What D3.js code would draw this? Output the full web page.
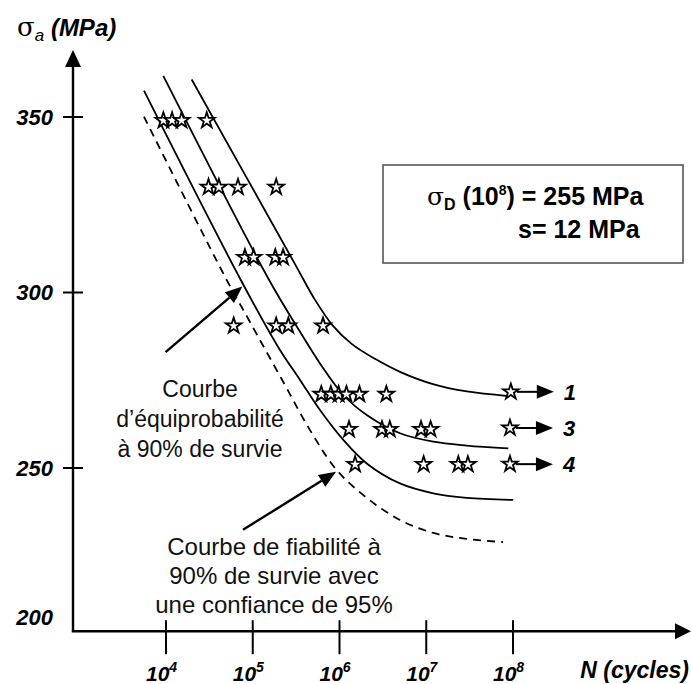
<!DOCTYPE html>
<html><head><meta charset="utf-8">
<script src="https://cdn.jsdelivr.net/npm/d3@7"></script>
<style>
body{margin:0;background:#fff}
svg{display:block;font-family:"Liberation Sans",Arial,sans-serif}
</style></head><body>
<svg id="c" width="691" height="684"></svg>
<script>
// ---- data ----
const xTickExponents = [4, 5, 6, 7, 8];
const yTickValues = [250, 300, 350];
const yTickLabels = [200, 250, 300, 350];
const yAxisMin = 203.5;

// test results: log10(N) and stress amplitude (MPa)
const pointsLogN   = [3.97, 4.07, 4.18, 4.47,  4.49, 4.61, 4.83, 5.27,  4.91, 5.01, 5.26, 5.35,
                      4.78, 5.27, 5.41, 5.81,  5.79, 5.90, 5.99, 6.08, 6.23, 6.54,
                      6.11, 6.49, 6.58, 6.94, 7.05,  6.18, 6.97, 7.37, 7.48];
const pointsStress = [349, 349, 349, 349,  330, 330, 330, 330,  310, 310, 310, 310,
                      290.5, 290.5, 290.5, 290.5,  271, 271, 271, 271, 271, 271,
                      261, 261, 261, 261, 261,  251, 251, 251, 251];

// run-outs (non broken at 1e8)
const runoutLogN   = [7.975, 7.965, 7.965];
const runoutStress = [271.7, 261.4, 251.1];
const runoutLabels = ["1", "3", "4"];

// curves: log10(N), stress
const curve1LogN   = [4.296, 5.487, 5.718, 5.925, 6.144, 6.409, 6.697, 7.078, 7.470, 7.942];
const curve1Stress = [360.7, 308.1, 297.9, 290.5, 285.3, 281.1, 277.4, 273.9, 271.8, 270.5];
const curve3LogN   = [3.969, 5.179, 5.545, 5.775, 6.044, 6.314, 6.697, 7.081, 7.466, 7.946];
const curve3Stress = [361.7, 304.0, 288.8, 279.8, 270.8, 265.1, 259.9, 257.5, 256.4, 255.6];
const curve4LogN   = [3.746, 4.853, 5.314, 5.545, 5.775, 6.044, 6.314, 6.697, 7.081, 7.466, 8.003];
const curve4Stress = [357.5, 304.0, 283.6, 275.1, 266.5, 258.0, 251.3, 245.6, 242.8, 241.5, 240.9];
const dashedLogN   = [3.746, 4.680, 4.968, 5.352, 5.660, 5.968, 6.314, 6.697, 7.081, 7.466, 7.885];
const dashedStress = [350.1, 304.5, 291.6, 274.5, 260.8, 249.4, 241.5, 235.2, 231.5, 229.8, 228.9];

// annotation arrows (tail -> tip) in data coordinates
const arrow1 = {from: [3.995, 283.0], to: [4.88, 301.7]};
const arrow2 = {from: [4.888, 232.4], to: [5.96, 248.9]};

const note1Lines = ["Courbe", "d\u2019équiprobabilité", "à 90% de survie"];
const note2Lines = ["Courbe de fiabilité à", "90% de survie avec", "une confiance de 95%"];

// ---- drawing ----
const svg = d3.select("#c");
const x = d3.scaleLog().domain([1e4, 1e8]).range([166, 513]);
const y = d3.scaleLinear().domain([250, 350]).range([468, 117]);
const X = v => x(Math.pow(10, v));

const originX = 73, originY = y(yAxisMin);
const ink = "#000";

// axes
svg.append("line").attr("x1", originX).attr("y1", originY).attr("x2", originX).attr("y2", 64)
  .attr("stroke", ink).attr("stroke-width", 2.4);
svg.append("path").attr("d", `M${originX},50 L${originX-8},67 L${originX+8},67 Z`).attr("fill", ink);
svg.append("line").attr("x1", originX - 1.2).attr("y1", originY).attr("x2", 678).attr("y2", originY)
  .attr("stroke", ink).attr("stroke-width", 2.4);
svg.append("path").attr("d", `M691,${originY} L675,${originY-8} L675,${originY+8} Z`).attr("fill", ink);

// y ticks
svg.selectAll(".yt").data(yTickValues).join("line")
  .attr("x1", originX - 10).attr("x2", originX + 10)
  .attr("y1", d => y(d)).attr("y2", d => y(d))
  .attr("stroke", ink).attr("stroke-width", 2);
svg.selectAll(".yl").data(yTickLabels).join("text")
  .attr("x", 53)
  .attr("y", d => d < yAxisMin ? originY - 14 : y(d))
  .attr("dy", "0.36em")
  .attr("text-anchor", "end")
  .attr("font-size", 22).attr("font-weight", "bold").attr("font-style", "italic")
  .text(d => d);

// x ticks
svg.selectAll(".xt").data(xTickExponents).join("line")
  .attr("x1", d => X(d)).attr("x2", d => X(d))
  .attr("y1", originY - 11).attr("y2", originY + 23)
  .attr("stroke", ink).attr("stroke-width", 2);
const xl = svg.selectAll(".xl").data(xTickExponents).join("text")
  .attr("x", d => X(d) - 20).attr("y", 681)
  .attr("font-weight", "bold").attr("font-style", "italic");
xl.append("tspan").attr("font-size", 21).text("10");
xl.append("tspan").attr("font-size", 14).attr("dy", -9).text(d => d);

// axis titles
const yt = svg.append("text").attr("x", 17).attr("y", 36);
yt.append("tspan").attr("font-size", 26).attr("font-family", "DejaVu Serif, serif").text("σ");
yt.append("tspan").attr("font-size", 17).attr("font-style", "italic").attr("dy", 5).text("a");
yt.append("tspan").attr("font-size", 24).attr("font-weight", "bold").attr("font-style", "italic")
  .attr("dy", -5).text(" (MPa)");
svg.append("text").attr("x", 689).attr("y", 678).attr("text-anchor", "end")
  .attr("font-size", 23).attr("font-weight", "bold").attr("font-style", "italic").text("N (cycles)");

// curves
const line = d3.line().x(d => X(d[0])).y(d => y(d[1])).curve(d3.curveCatmullRom.alpha(0.5));
const curves = [
  [curve1LogN, curve1Stress, null],
  [curve3LogN, curve3Stress, null],
  [curve4LogN, curve4Stress, null],
  [dashedLogN, dashedStress, "8,6"]
];
curves.forEach(([lx, ly, dash]) => {
  svg.append("path").datum(lx.map((v, i) => [v, ly[i]]))
    .attr("d", line).attr("fill", "none").attr("stroke", ink).attr("stroke-width", 1.8)
    .attr("stroke-dasharray", dash);
});

// runout arrows
const runouts = runoutLogN.map((v, i) => ({n: v, s: runoutStress[i], label: runoutLabels[i]}));
runouts.forEach(r => {
  const px = X(r.n), py = y(r.s);
  svg.append("line").attr("x1", px + 6).attr("x2", px + 28).attr("y1", py).attr("y2", py)
    .attr("stroke", ink).attr("stroke-width", 2);
  svg.append("path").attr("d", `M${px+43},${py} L${px+26},${py-7} L${px+26},${py+7} Z`).attr("fill", ink);
  svg.append("text").attr("x", px + 53).attr("y", py).attr("dy", "0.36em")
    .attr("font-size", 22).attr("font-weight", "bold").attr("font-style", "italic").text(r.label);
});

// stars
const star = d3.symbol().type(d3.symbolStar).size(76);
const allPts = pointsLogN.map((v, i) => [v, pointsStress[i]])
  .concat(runouts.map(r => [r.n, r.s]));
svg.selectAll(".st").data(allPts).join("path")
  .attr("d", star)
  .attr("transform", d => `translate(${X(d[0])},${y(d[1])})`)
  .attr("fill", "#fff").attr("stroke", ink).attr("stroke-width", 1.8).attr("stroke-linejoin", "miter");

// annotation arrows
[arrow1, arrow2].forEach(a => {
  const x1 = X(a.from[0]), y1 = y(a.from[1]), x2 = X(a.to[0]), y2 = y(a.to[1]);
  const ang = Math.atan2(y2 - y1, x2 - x1);
  const L = 17, W = 7;
  const bx = x2 - L * Math.cos(ang), by = y2 - L * Math.sin(ang);
  svg.append("line").attr("x1", x1).attr("y1", y1).attr("x2", bx).attr("y2", by)
    .attr("stroke", ink).attr("stroke-width", 2.4);
  svg.append("path").attr("d",
    `M${x2},${y2} L${bx + W*Math.sin(ang)},${by - W*Math.cos(ang)} L${bx - W*Math.sin(ang)},${by + W*Math.cos(ang)} Z`)
    .attr("fill", ink);
});

// annotation texts
svg.selectAll(".n1").data(note1Lines).join("text")
  .attr("x", 200).attr("y", (d, i) => 397 + i * 30).attr("text-anchor", "middle")
  .attr("font-size", 23).attr("fill", "#111").text(d => d);
svg.selectAll(".n2").data(note2Lines).join("text")
  .attr("x", 274).attr("y", (d, i) => 555 + i * 29).attr("text-anchor", "middle")
  .attr("font-size", 24).attr("fill", "#111").text(d => d);

// info box
svg.append("rect").attr("x", 383).attr("y", 165).attr("width", 300).attr("height", 98)
  .attr("fill", "#fff").attr("stroke", "#555").attr("stroke-width", 1.6);
const b1 = svg.append("text").attr("x", 427).attr("y", 205).attr("font-size", 25).attr("font-weight", "bold");
b1.append("tspan").attr("font-family", "DejaVu Serif, serif").attr("font-weight", "normal").text("σ");
b1.append("tspan").attr("font-size", 16).attr("dy", 5).text("D");
b1.append("tspan").attr("dy", -5).text(" (10");
b1.append("tspan").attr("font-size", 14).attr("dy", -10).text("8");
b1.append("tspan").attr("dy", 10).text(") = 255 MPa");
svg.append("text").attr("x", 518).attr("y", 238).attr("font-size", 25).attr("font-weight", "bold")
  .text("s= 12 MPa");
</script>
</body></html>
